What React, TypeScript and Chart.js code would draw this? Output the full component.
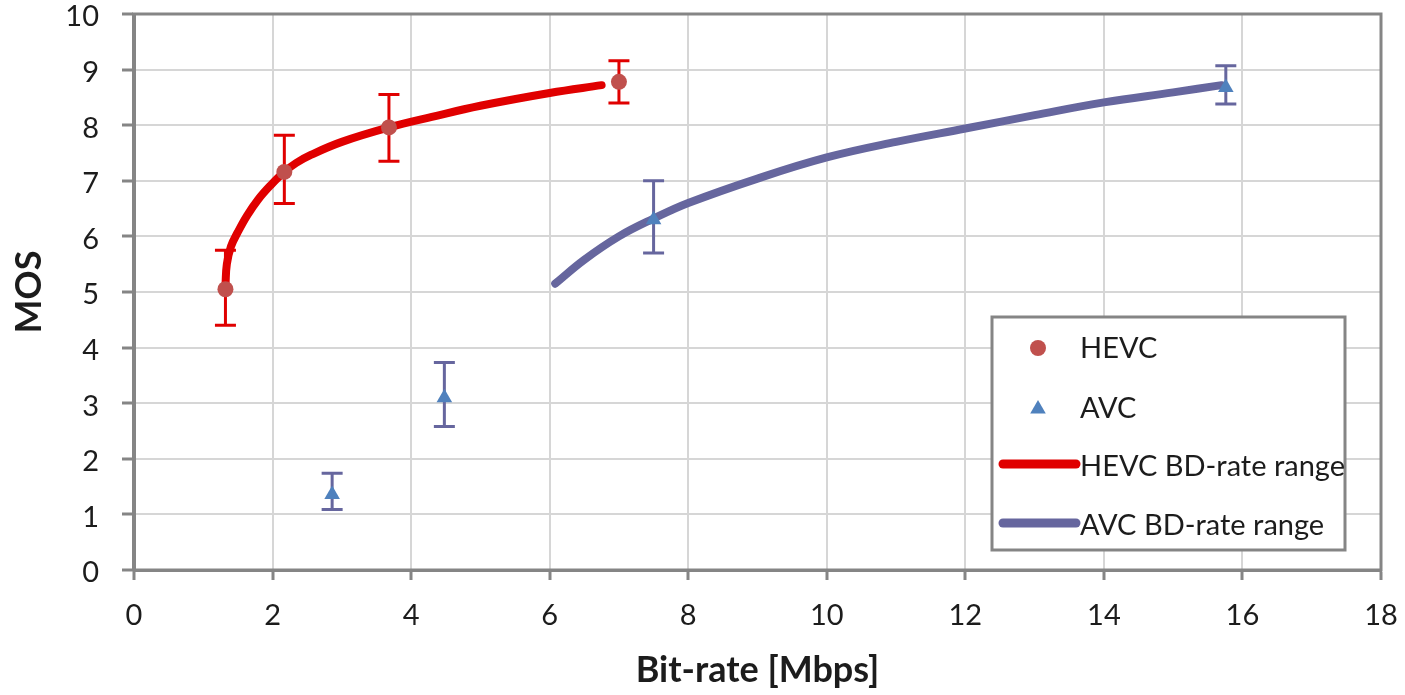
import { useEffect, useRef } from "react";
import { Chart, registerables } from "chart.js";

Chart.register(...registerables);

// ---- data ----
const X_MIN = 0;
const X_MAX = 18;
const X_STEP = 2;
const Y_MIN = 0;
const Y_MAX = 10;
const Y_STEP = 1;

const HEVC_RATE = [1.32, 2.17, 3.68, 7.0];
const HEVC_MOS = [5.05, 7.16, 7.96, 8.78];
const HEVC_MOS_LOW = [4.4, 6.59, 7.35, 8.4];
const HEVC_MOS_HIGH = [5.75, 7.82, 8.55, 9.16];

const AVC_RATE = [2.86, 4.48, 7.5, 15.76];
const AVC_MOS = [1.36, 3.1, 6.3, 8.68];
const AVC_MOS_LOW = [1.09, 2.58, 5.7, 8.38];
const AVC_MOS_HIGH = [1.74, 3.73, 7.0, 9.07];

const HEVC_FIT_RATE = [1.32, 1.34, 1.4, 1.5, 1.63, 1.79, 1.98, 2.16, 2.34, 2.56, 3.0, 3.68, 4.3, 5.0, 6.0, 6.75];
const HEVC_FIT_MOS = [5.12, 5.5, 5.82, 6.08, 6.37, 6.66, 6.93, 7.15, 7.32, 7.47, 7.7, 7.96, 8.15, 8.35, 8.58, 8.72];

const AVC_FIT_RATE = [6.08, 6.5, 7.0, 7.5, 8.0, 9.0, 10.0, 11.0, 12.0, 13.0, 14.0, 15.0, 15.7];
const AVC_FIT_MOS = [5.15, 5.58, 6.0, 6.32, 6.6, 7.04, 7.42, 7.7, 7.94, 8.18, 8.41, 8.59, 8.72];

const SERIES_LABELS = ["HEVC", "AVC", "HEVC BD-rate range", "AVC BD-rate range"];
const X_TITLE = "Bit-rate [Mbps]";
const Y_TITLE = "MOS";

const FONT = "Lato, 'Open Sans', sans-serif";
const TEXT_COLOR = "#1c1c1c";
const AXIS_COLOR = "#858585";
const GRID_COLOR = "#d6d6d6";

const HEVC_MARK = "#c0504d";
const HEVC_LINE = "#e00000";
const AVC_MARK = "#4f81bd";
const AVC_LINE = "#66669e";

const zip = (xs: number[], ys: number[]) => xs.map((x, i) => ({ x, y: ys[i] }));

const errorBarPlugin = {
  id: "errorBars",
  beforeDatasetDraw(chart: any, args: any) {
    const ds = chart.data.datasets[args.index] as any;
    if (!ds.errLow) return;
    const { ctx } = chart;
    const xs = chart.scales.x;
    const ys = chart.scales.y;
    ctx.save();
    ctx.strokeStyle = ds.errColor;
    ctx.lineWidth = 3;
    ctx.lineCap = "butt";
    ds.data.forEach((p: any, i: number) => {
      const px = xs.getPixelForValue(p.x);
      const top = ys.getPixelForValue(ds.errHigh[i]);
      const bot = ys.getPixelForValue(ds.errLow[i]);
      ctx.beginPath();
      ctx.moveTo(px, top);
      ctx.lineTo(px, bot);
      ctx.moveTo(px - 10.5, top);
      ctx.lineTo(px + 10.5, top);
      ctx.moveTo(px - 10.5, bot);
      ctx.lineTo(px + 10.5, bot);
      ctx.stroke();
    });
    ctx.restore();
  },
};

const frameAndLegendPlugin = {
  id: "frameAndLegend",
  beforeDatasetsDraw(chart: any) {
    const { ctx, chartArea } = chart;
    ctx.save();
    ctx.strokeStyle = AXIS_COLOR;
    ctx.lineWidth = 3;
    ctx.strokeRect(chartArea.left - 0.5, chartArea.top, chartArea.right - chartArea.left + 0.5, chartArea.bottom - chartArea.top);
    ctx.restore();
  },
  afterDraw(chart: any) {
    const { ctx } = chart;
    const ds = chart.data.datasets;
    const bx = 992, by = 317, bw = 353, bh = 233;
    ctx.save();
    ctx.fillStyle = "#ffffff";
    ctx.fillRect(bx, by, bw, bh);
    ctx.strokeStyle = AXIS_COLOR;
    ctx.lineWidth = 3;
    ctx.strokeRect(bx, by, bw, bh);
    const rows = [349, 409, 467, 526];
    const textX = 1080;
    const markX = 1038;
    ctx.font = `29px ${FONT}`;
    ctx.textBaseline = "middle";
    ctx.textAlign = "left";
    ds.forEach((d: any, i: number) => {
      const y = rows[i];
      if (d.showLine) {
        ctx.strokeStyle = d.borderColor;
        ctx.lineWidth = 9;
        ctx.lineCap = "round";
        ctx.beginPath();
        ctx.moveTo(1003, y - 3);
        ctx.lineTo(1076, y - 3);
        ctx.stroke();
      } else if (d.pointStyle === "triangle") {
        const r = 9;
        const cy = y;
        ctx.fillStyle = d.backgroundColor;
        ctx.beginPath();
        ctx.moveTo(markX, cy - r);
        ctx.lineTo(markX + r * 0.866, cy + r / 2);
        ctx.lineTo(markX - r * 0.866, cy + r / 2);
        ctx.closePath();
        ctx.fill();
      } else {
        ctx.fillStyle = d.backgroundColor;
        ctx.beginPath();
        ctx.arc(markX, y - 1, 8, 0, Math.PI * 2);
        ctx.fill();
      }
      ctx.fillStyle = TEXT_COLOR;
      ctx.fillText(d.label, textX, y);
    });
    ctx.restore();
  },
};

export default function App() {
  const canvasRef = useRef<HTMLCanvasElement | null>(null);

  useEffect(() => {
    if (!canvasRef.current) return;
    const chart = new Chart(canvasRef.current, {
      type: "scatter",
      data: {
        datasets: [
          {
            label: SERIES_LABELS[0],
            data: zip(HEVC_RATE, HEVC_MOS),
            pointStyle: "circle",
            pointRadius: 8,
            pointBorderWidth: 0,
            backgroundColor: HEVC_MARK,
            borderColor: HEVC_MARK,
            order: 0,
            errLow: HEVC_MOS_LOW,
            errHigh: HEVC_MOS_HIGH,
            errColor: HEVC_LINE,
          } as any,
          {
            label: SERIES_LABELS[1],
            data: zip(AVC_RATE, AVC_MOS),
            pointStyle: "triangle",
            pointRadius: 9,
            pointBorderWidth: 0,
            backgroundColor: AVC_MARK,
            borderColor: AVC_MARK,
            order: 0,
            errLow: AVC_MOS_LOW,
            errHigh: AVC_MOS_HIGH,
            errColor: AVC_LINE,
          } as any,
          {
            label: SERIES_LABELS[2],
            data: zip(HEVC_FIT_RATE, HEVC_FIT_MOS),
            showLine: true,
            pointRadius: 0,
            borderColor: HEVC_LINE,
            backgroundColor: HEVC_LINE,
            borderWidth: 8,
            borderCapStyle: "round",
            borderJoinStyle: "round",
            tension: 0.4,
            order: 1,
          } as any,
          {
            label: SERIES_LABELS[3],
            data: zip(AVC_FIT_RATE, AVC_FIT_MOS),
            showLine: true,
            pointRadius: 0,
            borderColor: AVC_LINE,
            backgroundColor: AVC_LINE,
            borderWidth: 8,
            borderCapStyle: "round",
            borderJoinStyle: "round",
            tension: 0.4,
            order: 1,
          } as any,
        ],
      },
      options: {
        responsive: false,
        animation: false,
        devicePixelRatio: 1,
        layout: { padding: { top: 14, right: 24, left: 0, bottom: 0 } },
        plugins: {
          legend: { display: false },
          tooltip: { enabled: false },
        },
        scales: {
          x: {
            type: "linear",
            min: X_MIN,
            max: X_MAX,
            ticks: {
              stepSize: X_STEP,
              font: { family: FONT, size: 29 },
              color: TEXT_COLOR,
              padding: 18,
            },
            grid: {
              color: GRID_COLOR,
              lineWidth: 2,
              tickLength: 10,
              tickColor: AXIS_COLOR,
              tickWidth: 3,
            },
            border: { color: AXIS_COLOR, width: 3 },
            title: {
              display: true,
              text: X_TITLE,
              font: { family: FONT, size: 36, weight: "bold" },
              color: TEXT_COLOR,
              padding: { top: 0, bottom: 3 },
            },
            afterFit: (scale: any) => {
              scale.height = 125;
              scale.paddingLeft = 0;
              scale.paddingRight = 0;
            },
          },
          y: {
            type: "linear",
            min: Y_MIN,
            max: Y_MAX,
            ticks: {
              stepSize: Y_STEP,
              font: { family: FONT, size: 29 },
              color: TEXT_COLOR,
              padding: 23,
              labelOffset: 3,
            },
            grid: {
              color: GRID_COLOR,
              lineWidth: 2,
              tickLength: 12,
              tickColor: AXIS_COLOR,
              tickWidth: 3,
            },
            border: { color: AXIS_COLOR, width: 3 },
            title: {
              display: true,
              text: Y_TITLE,
              font: { family: FONT, size: 36, weight: "bold" },
              color: TEXT_COLOR,
              padding: { top: 8, bottom: 0 },
            },
            afterFit: (scale: any) => {
              scale.width = 134;
              scale.paddingTop = 0;
              scale.paddingBottom = 0;
            },
          },
        },
      } as any,
      plugins: [errorBarPlugin, frameAndLegendPlugin],
    });
    return () => chart.destroy();
  }, []);

  return (
    <div style={{ position: "fixed", left: 0, top: 0, width: 1405, height: 695, background: "#ffffff" }}>
      <canvas ref={canvasRef} width={1405} height={695} style={{ display: "block" }} />
    </div>
  );
}
